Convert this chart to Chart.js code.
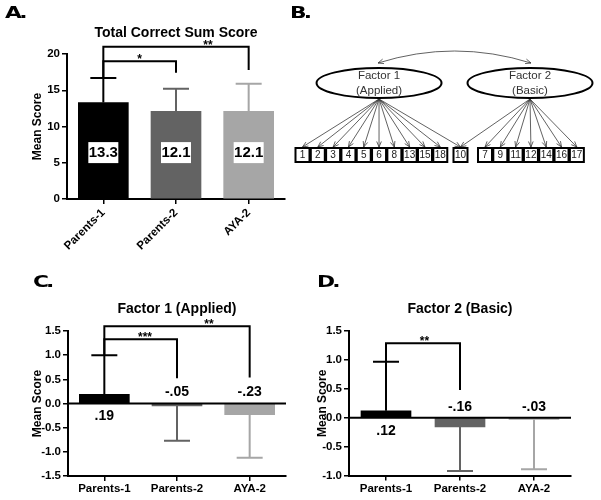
<!DOCTYPE html>
<html><head><meta charset="utf-8">
<script src="https://cdn.jsdelivr.net/npm/chart.js@4.4.1/dist/chart.umd.min.js"></script>
<style>
html,body{margin:0;padding:0;background:#fff;}
#wrap{position:relative;width:601px;height:500px;overflow:hidden;background:#fff;}
canvas{position:absolute;display:block;}
.plabel{position:absolute;font-family:'DejaVu Sans',sans-serif;font-weight:bold;font-size:15px;line-height:15px;transform:scaleX(1.45);transform-origin:0 0;letter-spacing:-2px;color:#000;}
</style></head>
<body><div id="wrap">
<canvas id="cA" width="290" height="250" style="left:0;top:0"></canvas>
<canvas id="cB" width="311" height="250" style="left:290px;top:0"></canvas>
<canvas id="cC" width="300" height="250" style="left:0;top:250px"></canvas>
<canvas id="cD" width="301" height="250" style="left:300px;top:250px"></canvas>
<div class="plabel" style="left:5px;top:6px">A.</div>
<div class="plabel" style="left:290px;top:6px">B.</div>
<div class="plabel" style="left:33px;top:275px">C.</div>
<div class="plabel" style="left:317px;top:275px">D.</div>
</div>
<script>
// ---------- data ----------
const categories = ['Parents-1', 'Parents-2', 'AYA-2'];
const barColors = ['#000000', '#636363', '#a6a6a6'];

const totalMeans = [13.3, 12.1, 12.1];
const totalErrEnd = [16.7, 15.2, 15.9];
const totalLabels = ['13.3', '12.1', '12.1'];
const totalTicks = [0, 5, 10, 15, 20];
const totalSig = [
  { from: 0, to: 1, top: 19.0, end: 17.4, stars: '*', at: 0.5 },
  { from: 0, to: 2, top: 21.0, end: 17.8, stars: '**', at: 1.44 }
];

const f1Means = [0.19, -0.05, -0.23];
const f1ErrEnd = [1.0, -0.77, -1.12];
const f1Labels = ['.19', '-.05', '-.23'];
const f1Sig = [
  { from: 0, to: 1, top: 1.33, end: 0.52, stars: '***', at: 0.56 },
  { from: 0, to: 2, top: 1.60, end: 0.54, stars: '**', at: 1.44 }
];

const f2Means = [0.12, -0.16, -0.03];
const f2ErrEnd = [0.97, -0.92, -0.89];
const f2Labels = ['.12', '-.16', '-.03'];
const f2Sig = [
  { from: 0, to: 1, top: 1.29, end: 0.48, stars: '**', at: 0.52 }
];

// factor model (panel B)
const factorNames = [['Factor 1', '(Applied)'], ['Factor 2', '(Basic)']];
const factor1Items = ['1', '2', '3', '4', '5', '6', '8', '13', '15', '18'];
const crossItems = ['10'];
const factor2Items = ['7', '9', '11', '12', '14', '16', '17'];

// ---------- helpers ----------
const FONT = "'Liberation Sans', Arial, Helvetica, sans-serif";
const font = (size, weight) => `${weight || 'bold'} ${size}px ${FONT}`;

function annotPlugin(o) {
  return {
    id: 'annot' + o.id,
    afterDatasetsDraw(chart) {
      const ctx = chart.ctx, xs = chart.scales.x, ys = chart.scales.y, ca = chart.chartArea;
      ctx.save();
      // zero line
      if (o.zeroLine) {
        ctx.strokeStyle = '#000'; ctx.lineWidth = 2;
        const yz = ys.getPixelForValue(0);
        ctx.beginPath(); ctx.moveTo(ca.left - 1, yz); ctx.lineTo(ca.right, yz); ctx.stroke();
      }
      // error bars
      o.means.forEach((m, i) => {
        const xc = xs.getPixelForValue(i);
        const y0 = ys.getPixelForValue(m), y1 = ys.getPixelForValue(o.errEnd[i]);
        ctx.strokeStyle = barColors[i]; ctx.lineWidth = 2;
        ctx.beginPath(); ctx.moveTo(xc, y0); ctx.lineTo(xc, y1);
        ctx.moveTo(xc - 13, y1); ctx.lineTo(xc + 13, y1); ctx.stroke();
      });
      // value labels
      ctx.textAlign = 'center'; ctx.textBaseline = 'middle';
      o.means.forEach((m, i) => {
        const xc = xs.getPixelForValue(i);
        if (o.boxLabels) {
          const yc = ys.getPixelForValue(o.boxAt);
          ctx.fillStyle = '#fff';
          ctx.fillRect(xc - 15, yc - 10.5, 30, 21);
          ctx.fillStyle = '#000'; ctx.font = font(15);
          ctx.fillText(o.labels[i], xc, yc + 0.5);
        } else {
          const yz = ys.getPixelForValue(0);
          ctx.fillStyle = '#000'; ctx.font = font(14);
          ctx.fillText(o.labels[i], xc, m >= 0 ? yz + 13 : yz - 11);
        }
      });
      // significance brackets
      ctx.strokeStyle = '#000'; ctx.lineWidth = 2;
      o.sig.forEach(s => {
        const xa = xs.getPixelForValue(s.from), xb = xs.getPixelForValue(s.to);
        const yt = ys.getPixelForValue(s.top);
        ctx.beginPath();
        ctx.moveTo(xa, ys.getPixelForValue(o.errEnd[s.from]));
        ctx.lineTo(xa, yt); ctx.lineTo(xb, yt); ctx.lineTo(xb, ys.getPixelForValue(s.end));
        ctx.stroke();
        ctx.fillStyle = '#000'; ctx.font = font(12); ctx.textBaseline = 'alphabetic';
        ctx.fillText(s.stars, xs.getPixelForValue(s.at), yt + 2);
      });
      // title
      ctx.fillStyle = '#000'; ctx.font = font(14); ctx.textBaseline = 'middle'; ctx.textAlign = 'center';
      ctx.fillText(o.title, (ca.left + ca.right) / 2, o.titleY);
      ctx.restore();
    }
  };
}

function barChart(o) {
  const cv = document.getElementById(o.id);
  const W = cv.width, H = cv.height;
  return new Chart(cv, {
    type: 'bar',
    data: { labels: categories, datasets: [{ data: o.means, backgroundColor: barColors, borderWidth: 0, barThickness: 50 }] },
    options: {
      responsive: false, animation: false, maintainAspectRatio: false,
      layout: { padding: { top: o.area.top, left: 0, right: W - o.area.right, bottom: 0 } },
      plugins: { legend: { display: false }, tooltip: { enabled: false }, title: { display: false } },
      scales: {
        x: {
          grid: { display: true, drawOnChartArea: false, offset: false, tickLength: 5, color: '#000', lineWidth: 1.5 },
          border: { display: true, color: '#000', width: 2 },
          ticks: { color: '#000', font: { family: FONT, weight: 'bold', size: 11.5 }, padding: o.xPad,
                   maxRotation: o.rot, minRotation: o.rot, autoSkip: false },
          afterFit: s => { s.height = H - o.area.bottom; }
        },
        y: {
          min: o.yMin, max: o.yMax,
          afterBuildTicks: s => { s.ticks = o.ticks.map(v => ({ value: v })); },
          ticks: { color: '#000', font: { family: FONT, weight: 'bold', size: 11.5 }, padding: 2,
                   callback: v => o.fmt(v) },
          grid: { display: true, drawOnChartArea: false, tickLength: 5, color: '#000', lineWidth: 1.5 },
          border: { display: true, color: '#000', width: 2 },
          title: { display: true, text: 'Mean Score', color: '#000', font: { family: FONT, weight: 'bold', size: 12 },
                   padding: { top: o.yTitlePad, bottom: 0 } },
          afterFit: s => { s.width = o.area.left; }
        }
      }
    },
    plugins: [annotPlugin(o)]
  });
}

barChart({ id: 'cA', means: totalMeans, errEnd: totalErrEnd, labels: totalLabels, sig: totalSig,
  yMin: 0, yMax: 20, ticks: totalTicks, fmt: v => String(v), rot: 45, xPad: 2,
  area: { left: 67, right: 285, top: 54, bottom: 199 }, title: 'Total Correct Sum Score', titleY: 33,
  boxLabels: true, boxAt: 6.4, zeroLine: false, yTitlePad: 30 });

barChart({ id: 'cC', means: f1Means, errEnd: f1ErrEnd, labels: f1Labels, sig: f1Sig,
  yMin: -1.5, yMax: 1.5, ticks: [-1.5, -1, -0.5, 0, 0.5, 1, 1.5], fmt: v => v.toFixed(1), rot: 0, xPad: 1,
  area: { left: 68, right: 286, top: 81, bottom: 226 }, title: 'Factor 1 (Applied)', titleY: 59,
  boxLabels: false, zeroLine: true, yTitlePad: 30 });

barChart({ id: 'cD', means: f2Means, errEnd: f2ErrEnd, labels: f2Labels, sig: f2Sig,
  yMin: -1.0, yMax: 1.5, ticks: [-1, -0.5, 0, 0.5, 1, 1.5], fmt: v => v.toFixed(1), rot: 0, xPad: 1,
  area: { left: 49, right: 271, top: 81, bottom: 225.5 }, title: 'Factor 2 (Basic)', titleY: 59,
  boxLabels: false, zeroLine: true, yTitlePad: 15 });

// ---------- panel B: factor model diagram ----------
const GROUP2_START = 11.92, CROSS_SLOT = 10.32;
const itemPoints = [
  ...factor1Items.map((t, i) => ({ x: i, y: 155, t, f: [0] })),
  ...crossItems.map(t => ({ x: CROSS_SLOT, y: 155, t, f: [0, 1] })),
  ...factor2Items.map((t, i) => ({ x: GROUP2_START + i, y: 155, t, f: [1] }))
];
const factorPoints = [{ x: 5.0, y: 83 }, { x: 14.86, y: 83 }];

const diagramPlugin = {
  id: 'diagram',
  afterDatasetsDraw(chart) {
    const ctx = chart.ctx;
    const items = chart.getDatasetMeta(0).data;
    const facs = chart.getDatasetMeta(1).data;
    const ys = chart.scales.y;
    const RX = 62.5, RY = 15, BW = 14, BH = 14;
    ctx.save();
    const arrowHead = (x, y, ang, len) => {
      ctx.beginPath();
      ctx.moveTo(x - len * Math.cos(ang - 0.4), y - len * Math.sin(ang - 0.4));
      ctx.lineTo(x, y);
      ctx.lineTo(x - len * Math.cos(ang + 0.4), y - len * Math.sin(ang + 0.4));
      ctx.stroke();
    };
    // loading arrows
    ctx.strokeStyle = '#3a3a3a'; ctx.lineWidth = 0.8;
    itemPoints.forEach((p, i) => {
      const bx = items[i].x, by = items[i].y - BH / 2 - 1;
      p.f.forEach(fi => {
        const fx = facs[fi].x, fy = facs[fi].y + RY + 1;
        ctx.beginPath(); ctx.moveTo(fx, fy); ctx.lineTo(bx, by); ctx.stroke();
        arrowHead(bx, by, Math.atan2(by - fy, bx - fx), 6);
      });
    });
    // covariance curve
    const x1 = facs[0].x - 1, x2 = facs[1].x + 1, yc = ys.getPixelForValue(63), ctrl = ys.getPixelForValue(39);
    ctx.beginPath(); ctx.moveTo(x1, yc); ctx.quadraticCurveTo((x1 + x2) / 2, ctrl, x2, yc); ctx.stroke();
    arrowHead(x1, yc, Math.atan2(yc - ctrl, x1 - (x1 + x2) / 2), 6);
    arrowHead(x2, yc, Math.atan2(yc - ctrl, x2 - (x1 + x2) / 2), 6);
    // ellipses
    facs.forEach((f, i) => {
      ctx.beginPath(); ctx.ellipse(f.x, f.y, RX, RY, 0, 0, Math.PI * 2);
      ctx.fillStyle = '#fff'; ctx.fill();
      ctx.strokeStyle = '#000'; ctx.lineWidth = 2; ctx.stroke();
      ctx.fillStyle = '#333'; ctx.font = font(11.5, 'normal');
      ctx.textAlign = 'center'; ctx.textBaseline = 'middle';
      ctx.fillText(factorNames[i][0], f.x, f.y - 7);
      ctx.fillText(factorNames[i][1], f.x, f.y + 8);
    });
    // item boxes
    items.forEach((el, i) => {
      ctx.fillStyle = '#fff'; ctx.fillRect(el.x - BW / 2, el.y - BH / 2, BW, BH);
      ctx.strokeStyle = '#000'; ctx.lineWidth = 2;
      ctx.strokeRect(el.x - BW / 2, el.y - BH / 2, BW, BH);
      ctx.fillStyle = '#222'; ctx.font = font(10, 'normal');
      ctx.textAlign = 'center'; ctx.textBaseline = 'middle';
      ctx.fillText(itemPoints[i].t, el.x, el.y + 0.5);
    });
    ctx.restore();
  }
};

new Chart(document.getElementById('cB'), {
  type: 'scatter',
  data: { datasets: [
    { data: itemPoints, pointRadius: 0 },
    { data: factorPoints, pointRadius: 0 }
  ] },
  options: {
    responsive: false, animation: false,
    layout: { padding: 0 },
    plugins: { legend: { display: false }, tooltip: { enabled: false } },
    scales: {
      x: { type: 'linear', display: false, min: -0.816, max: 19.497 },
      y: { type: 'linear', display: false, min: 0, max: 250, reverse: true }
    }
  },
  plugins: [diagramPlugin]
});
</script>
</body></html>
